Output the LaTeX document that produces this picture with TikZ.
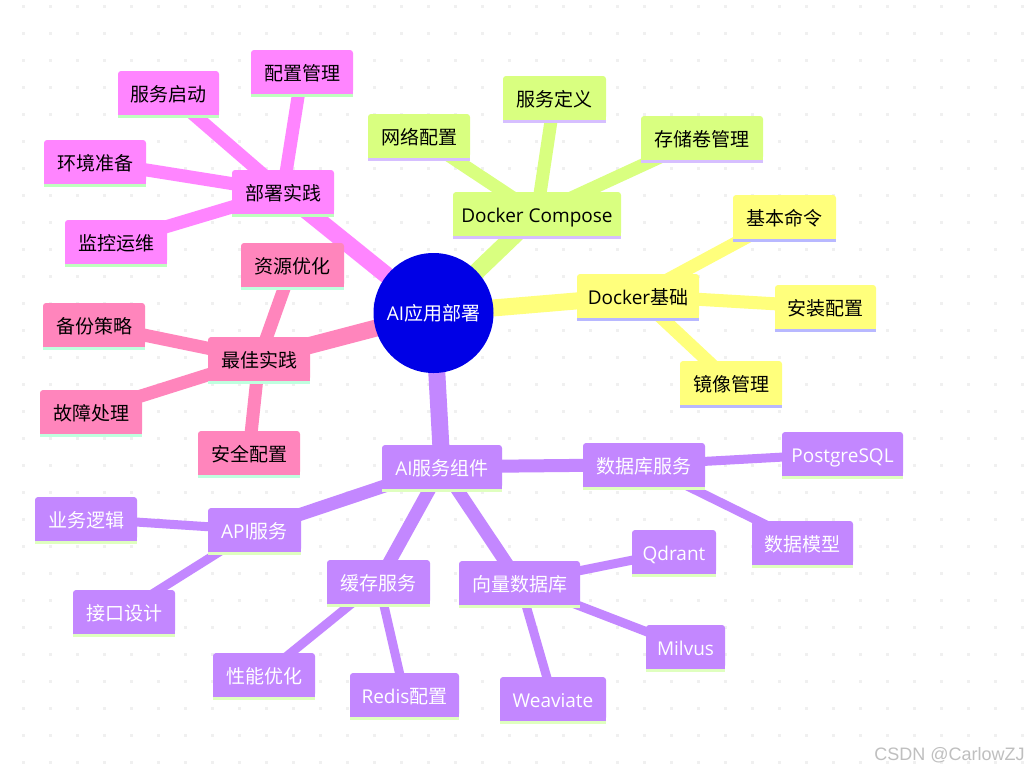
\documentclass[tikz,border=0pt]{standalone}
\usepackage{fontspec}
\setmainfont{Noto Sans CJK SC}
\newfontfamily\latinfont{Open Sans}
\newfontfamily\creditfont{Liberation Sans}
\definecolor{rootblue}{HTML}{0000E6}
\definecolor{dockeryellow}{HTML}{FFFF7C}
\definecolor{dockerbar}{HTML}{B8B8FF}
\definecolor{composegreen}{HTML}{D9FF80}
\definecolor{composebar}{HTML}{D6BFFF}
\definecolor{deploypink}{HTML}{FF85FF}
\definecolor{deploybar}{HTML}{BFFFBF}
\definecolor{bestrose}{HTML}{FF85BC}
\definecolor{bestbar}{HTML}{BFFFDF}
\definecolor{servicepurple}{HTML}{C387FF}
\definecolor{servicebar}{HTML}{DFFFBF}
\definecolor{griddot}{HTML}{F0F0F0}
\pgfdeclarelayer{bg}
\pgfsetlayers{bg,main}
\tikzset{
  mapbox/.style={rectangle,rounded corners=2.25pt,inner sep=0pt,minimum height=32.6pt,text height=14pt,text depth=0.2pt},
  dockerbox/.style={fill=dockeryellow,text=black},
  composebox/.style={fill=composegreen,text=black},
  deploybox/.style={fill=deploypink,text=black},
  bestbox/.style={fill=bestrose,text=black},
  servicebox/.style={fill=servicepurple,text=white},
  dockerstrip/.style={fill=dockerbar},
  composestrip/.style={fill=composebar},
  deploystrip/.style={fill=deploybar},
  beststrip/.style={fill=bestbar},
  servicestrip/.style={fill=servicebar},
  link/.style={line width=#1*0.75pt},
}
% style, name, left, top, right, text
\newcommand{\mapnode}[6]{
  \node[mapbox,#1box,minimum width={(#5-#3)*0.75pt}] (#2) at ({(#3+#5)/2},{#4+21.75}) {#6};
  \fill[#1box] ([yshift=2.25pt]#2.south west) rectangle (#2.south east);
  \fill[#1strip] (#2.south west) rectangle ([yshift=-2.6pt]#2.south east);
}
\begin{document}
\begin{tikzpicture}[x=0.75pt,y=-0.75pt]
\useasboundingbox (0,0) rectangle (1028,772);
\fontsize{14.25}{17}\selectfont
\begin{pgfonlayer}{bg}
\fill[white] (0,0) rectangle (1028,772);
\foreach \i in {1,...,38}
  \foreach \j in {0,...,28}
    \fill[griddot] ({-3.7+27*\i-1.5},{6.7+27*\j-1.5}) rectangle ++(3,3);
\end{pgfonlayer}

\node[circle,fill=rootblue,text=white,inner sep=0pt,minimum size=90pt] (root) at (433.5,313) {{\latinfont AI}应用部署};

% docker
\mapnode{docker}{docker}{577}{274}{699}{{\latinfont Docker}基础}
\mapnode{docker}{command}{733}{195}{836}{基本命令}
\mapnode{docker}{install}{775}{285}{876}{安装配置}
\mapnode{docker}{image}{680}{361}{782}{镜像管理}
% compose
\mapnode{compose}{compose}{453}{192}{621}{\latinfont Docker Compose}
\mapnode{compose}{network}{368}{114}{470}{网络配置}
\mapnode{compose}{define}{503}{76}{606}{服务定义}
\mapnode{compose}{volume}{641}{116}{763}{存储卷管理}
% deploy
\mapnode{deploy}{deploy}{232}{170}{334}{部署实践}
\mapnode{deploy}{config}{251}{50}{353}{配置管理}
\mapnode{deploy}{start}{118}{71}{219}{服务启动}
\mapnode{deploy}{prepare}{44}{140}{146}{环境准备}
\mapnode{deploy}{monitor}{65}{220}{167}{监控运维}
% best practice
\mapnode{best}{best}{208}{337}{310}{最佳实践}
\mapnode{best}{tuning}{241}{243}{344}{资源优化}
\mapnode{best}{backup}{43}{303}{145}{备份策略}
\mapnode{best}{fault}{40}{390}{142}{故障处理}
\mapnode{best}{secure}{198}{431}{300}{安全配置}
% services
\mapnode{service}{service}{382}{445}{502}{{\latinfont AI}服务组件}
\mapnode{service}{database}{583}{443}{705}{数据库服务}
\mapnode{service}{postgres}{782}{432}{903}{\latinfont PostgreSQL}
\mapnode{service}{schema}{752}{521}{853}{数据模型}
\mapnode{service}{vector}{459}{561}{580}{向量数据库}
\mapnode{service}{qdrant}{632}{530}{716}{\latinfont Qdrant}
\mapnode{service}{milvus}{646}{625}{725}{\latinfont Milvus}
\mapnode{service}{weaviate}{500}{677}{606}{\latinfont Weaviate}
\mapnode{service}{cache}{327}{560}{430}{缓存服务}
\mapnode{service}{perf}{213}{653}{315}{性能优化}
\mapnode{service}{redis}{350}{673}{459}{{\latinfont Redis}配置}
\mapnode{service}{api}{208}{508}{301}{{\latinfont API}服务}
\mapnode{service}{logic}{35}{497}{137}{业务逻辑}
\mapnode{service}{iface}{73}{590}{175}{接口设计}

\begin{pgfonlayer}{bg}
\draw[dockeryellow,link=17] (root.center) -- (docker.center);
\draw[dockeryellow,link=13] (docker.center) -- (command.center);
\draw[dockeryellow,link=13] (docker.center) -- (install.center);
\draw[dockeryellow,link=13] (docker.center) -- (image.center);
\draw[composegreen,link=17] (root.center) -- (compose.center);
\draw[composegreen,link=13] (compose.center) -- (network.center);
\draw[composegreen,link=13] (compose.center) -- (define.center);
\draw[composegreen,link=13] (compose.center) -- (volume.center);
\draw[deploypink,link=17] (root.center) -- (deploy.center);
\draw[deploypink,link=13] (deploy.center) -- (config.center);
\draw[deploypink,link=13] (deploy.center) -- (start.center);
\draw[deploypink,link=13] (deploy.center) -- (prepare.center);
\draw[deploypink,link=13] (deploy.center) -- (monitor.center);
\draw[bestrose,link=17] (root.center) -- (best.center);
\draw[bestrose,link=13] (best.center) -- (tuning.center);
\draw[bestrose,link=13] (best.center) -- (backup.center);
\draw[bestrose,link=13] (best.center) -- (fault.center);
\draw[bestrose,link=13] (best.center) -- (secure.center);
\draw[servicepurple,link=17] (root.center) -- (service.center);
\draw[servicepurple,link=13] (service.center) -- (database.center);
\draw[servicepurple,link=13] (service.center) -- (vector.center);
\draw[servicepurple,link=13] (service.center) -- (cache.center);
\draw[servicepurple,link=13] (service.center) -- (api.center);
\draw[servicepurple,link=9] (database.center) -- (postgres.center);
\draw[servicepurple,link=9] (database.center) -- (schema.center);
\draw[servicepurple,link=9] (vector.center) -- (qdrant.center);
\draw[servicepurple,link=9] (vector.center) -- (milvus.center);
\draw[servicepurple,link=9] (vector.center) -- (weaviate.center);
\draw[servicepurple,link=9] (cache.center) -- (perf.center);
\draw[servicepurple,link=9] (cache.center) -- (redis.center);
\draw[servicepurple,link=9] (api.center) -- (logic.center);
\draw[servicepurple,link=9] (api.center) -- (iface.center);
\end{pgfonlayer}

\node[text=black!25,anchor=east,inner sep=0pt] (credit) at (1025,755) {\creditfont\fontsize{13.5}{16}\selectfont CSDN @CarlowZJ};
\end{tikzpicture}
\end{document}
